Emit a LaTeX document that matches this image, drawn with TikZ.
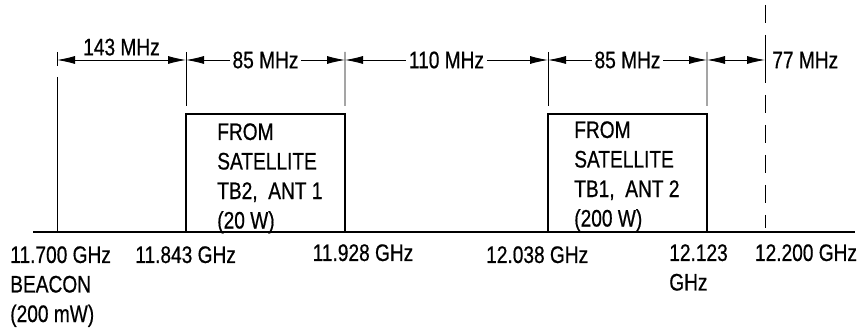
\documentclass[tikz,border=0pt]{standalone}
\usepackage{fontspec}
\setmainfont{Liberation Sans}[FakeStretch=0.8,FakeBold=0.6]
\usepackage{tikz}
\usetikzlibrary{arrows.meta,positioning,calc}

\begin{document}
\begin{tikzpicture}[
  font=\fontsize{17}{21}\selectfont,
  band/.style={draw=black,line width=1.6pt,anchor=south west,inner sep=0pt,outer sep=0pt,
    minimum width=3.975cm,minimum height=2.95cm},
  bandtext/.style={anchor=north west,align=left,inner sep=0pt},
  freq/.style={anchor=north,align=left,inner sep=0pt},
  tick/.style={line width=0.6pt},
  dim/.style={{Latex[length=4.5mm,width=2mm]}-{Latex[length=4.5mm,width=2mm]},line width=0.6pt},
  dimlabel/.style={fill=white,inner sep=2pt}
]
\useasboundingbox (0,0) rectangle (21.6,8.2);

% ==================== 1. FREQUENCY AXIS ====================
\coordinate (axis_l) at (0.825,2.4);
\coordinate (axis_r) at (21.375,2.4);
\coordinate (f700) at (1.425,2.4);
\coordinate (f843) at (4.65,2.4);
\coordinate (f928) at (8.625,2.4);
\coordinate (f038) at (13.7,2.4);
\coordinate (f123) at (17.675,2.4);
\coordinate (f200) at (19.125,2.4);

\node[band] (tb2) at (f843) {};
\node[band] (tb1) at (f038) {};
\draw[line width=2pt] (axis_l) -- (axis_r);

\node[bandtext] (tb2_txt) at ([xshift=7.75mm,yshift=-2.25mm]tb2.north west) {FROM\\SATELLITE\\TB2,\ \ ANT 1\\(20 W)};
\node[bandtext] (tb1_txt) at ([xshift=6.5mm,yshift=-1.75mm]tb1.north west) {FROM\\SATELLITE\\TB1,\ \ ANT 2\\(200 W)};

\node[freq, anchor=north west] (f700_lab) at (0.25,2.05) {11.700 GHz\\BEACON\\(200 mW)};
\node[freq] (f843_lab) at (4.64,2.05) {11.843 GHz};
\node[freq] (f928_lab) at (9.075,2.1) {11.928 GHz};
\node[freq] (f038_lab) at (13.43,2.05) {12.038 GHz};
\node[freq, anchor=north west] (f123_lab) at (16.725,2.1) {12.123\\GHz};
\node[freq] (f200_lab) at (20.15,2.1) {12.200 GHz};

% ==================== 2. BANDWIDTHS ====================
\coordinate (d700) at (1.425,6.7);
\coordinate (d843) at (4.65,6.7);
\coordinate (d928) at (8.625,6.7);
\coordinate (d038) at (13.7,6.7);
\coordinate (d123) at (17.675,6.7);
\coordinate (d200) at (19.125,6.7);
\coordinate (top200) at (19.125,8.075);

\draw[tick] ([yshift=2mm]d700) -- ([yshift=-1.5mm]d700);
\draw[tick] ([yshift=-4.25mm]d700) -- (f700);
\draw[tick] ([yshift=2mm]d843) -- ([yshift=2mm]tb2.north west);
\draw[tick] ([yshift=2mm]d928) -- ([yshift=2mm]tb2.north east);
\draw[tick] ([yshift=2mm]d038) -- ([yshift=2mm]tb1.north west);
\draw[tick] ([yshift=2mm]d123) -- ([yshift=2mm]tb1.north east);
\draw[tick, dash pattern=on 4.5mm off 3mm] (top200) -- ([yshift=1mm]f200);
\draw[tick] ([yshift=2mm]d200) -- ([yshift=-2mm]d200);

\draw[dim] (d700) -- node[above=1mm, inner sep=0pt] (bw143) {143 MHz} (d843);
\draw[dim] (d843) -- node[dimlabel] (bw85a) {85 MHz} (d928);
\draw[dim] (d928) -- node[dimlabel] (bw110) {110 MHz} (d038);
\draw[dim] (d038) -- node[dimlabel] (bw85b) {85 MHz} (d123);
\draw[dim] (d123) -- (d200);
\node[anchor=west, inner sep=0pt] (bw77) at ([xshift=1.75mm]d200) {77 MHz};

\end{tikzpicture}
\end{document}
